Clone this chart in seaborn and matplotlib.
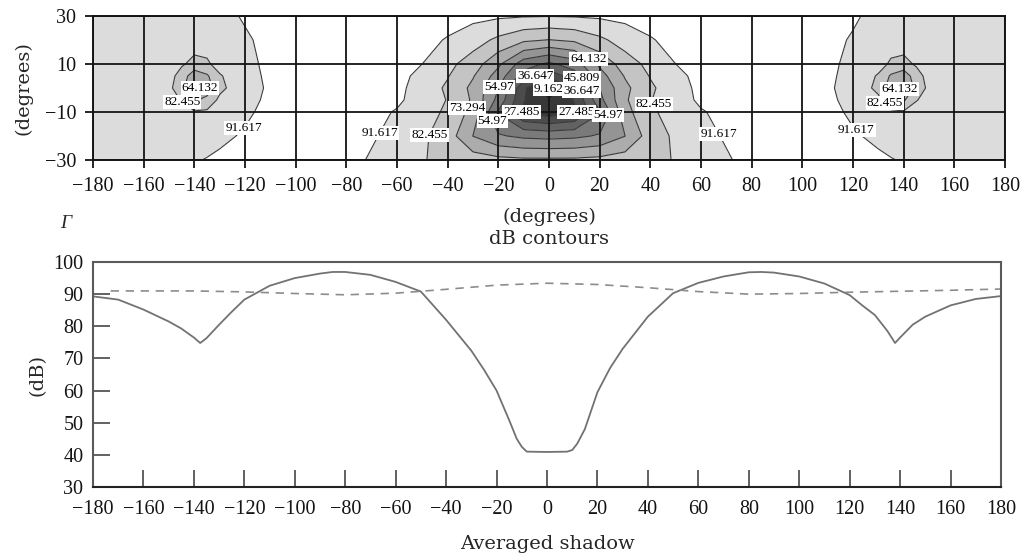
import numpy as np
import seaborn as sns
import matplotlib
matplotlib.use("Agg")
import matplotlib.pyplot as plt

# ---------------- top panel: dB contour field -------------
azimuth = [-180, -160, -150, -145, -140, -135, -130, -120, -110, -100, -80, -60, -50, -40, -30,
           -20, -10, 0, 10, 20, 30, 40, 50, 60, 80, 100, 110, 120, 130, 135, 140, 145, 150, 160, 180]
elevation = [-30, -20, -10, -5, 0, 5, 10, 20, 30]

db_el_m30 = [89, 89, 89, 90, 91, 92, 93, 95, 96, 96.5, 95, 86, 83, 80, 78,
             76, 75, 75, 75, 76, 78, 80, 83, 86, 95, 96.5, 96, 95, 93, 92, 91, 90, 89, 89, 89]
db_el_m20 = [89, 88.5, 88, 87.5, 87, 88.5, 90, 92.5, 95.5, 96.5, 96, 89, 84, 78, 64,
             56, 53, 52, 53, 56, 64, 78, 84, 89, 96, 96.5, 95.5, 92.5, 90, 88.5, 87, 87.5, 88, 88.5, 89]
db_el_m10 = [89, 88.5, 87, 86, 83.5, 84, 86, 90.2, 94, 96, 96.5, 91, 86, 81, 70,
             45, 26, 22, 26, 45, 70, 81, 86, 91, 96.5, 96, 94, 90.2, 86, 84, 83.5, 86, 87, 88.5, 89]
db_el_m5 = [89, 88.5, 85.5, 82, 72, 76, 84.5, 89.5, 93, 96, 97, 93, 88, 82, 72,
            52, 28, 18, 28, 52, 72, 82, 88, 93, 97, 96, 93, 89.5, 84.5, 76, 72, 82, 85.5, 88.5, 89]
db_el_0 = [89, 88.5, 84.5, 77, 61, 68, 80, 89.2, 92.5, 96, 97, 94, 87.5, 81, 71,
           55, 30, 8, 30, 55, 71, 81, 87.5, 94, 97, 96, 92.5, 89.2, 80, 68, 61, 77, 84.5, 88.5, 89]
db_el_p5 = [89, 88.5, 85.5, 79, 67, 72, 81.5, 89.5, 92.8, 96, 97, 94.5, 89, 83, 74,
            60, 42, 30, 42, 60, 74, 83, 89, 94.5, 97, 96, 92.8, 89.5, 81.5, 72, 67, 79, 85.5, 88.5, 89]
db_el_p10 = [89, 88.5, 87, 83.5, 80, 81, 86, 90, 93, 96, 97, 95, 91.6, 85, 78,
             66, 50, 44, 50, 66, 78, 85, 91.6, 95, 97, 96, 93, 90, 86, 81, 80, 83.5, 87, 88.5, 89]
db_el_p20 = [89, 88.5, 88, 87, 86.5, 87, 88, 90.5, 94, 96, 97, 96, 94, 91, 86.5,
             80.5, 75, 73, 75, 80.5, 86.5, 91, 94, 96, 97, 96, 94, 90.8, 88, 87, 86.5, 87, 88, 88.5, 89]
db_el_p30 = [89, 88.5, 88, 88, 87.5, 88, 89, 92.5, 95, 96, 97, 97, 96, 95, 94,
             93, 92.3, 92, 92.3, 93, 94, 95, 96, 97, 97, 96, 95, 92.8, 89, 88, 88, 88, 88, 88.5, 89]

contour_levels = [9.162, 18.324, 27.485, 36.647, 45.809, 54.97, 64.132, 73.294, 82.455, 91.617]

# ---------------- bottom panel: averaged shadow curves ------------------------------
shadow_az = [-180, -170, -160, -150, -145, -140, -137.5, -135, -130, -125, -120, -110, -100,
             -90, -85, -80, -70, -60, -50, -40, -30, -25, -20, -15, -12, -10, -8, 0,
             8, 10, 12, 15, 20, 25, 30, 40, 50, 60, 70, 80, 85, 90, 100, 110, 120,
             125, 130, 135, 138, 140, 145, 150, 160, 170, 180]
shadow_db = [89.3, 88.3, 85.2, 81.5, 79.3, 76.5, 74.8, 76.3, 80.5, 84.5, 88.3, 92.6, 95.0,
             96.4, 96.9, 96.9, 96.0, 93.8, 90.8, 82.0, 72.4, 66.5, 60.0, 50.8, 45.0, 42.5, 41.0, 40.9,
             41.0, 41.5, 43.5, 48.0, 59.5, 67.0, 73.0, 83.0, 90.3, 93.5, 95.5, 96.8, 96.9, 96.7, 95.5, 93.3, 89.7,
             86.5, 83.5, 78.5, 74.8, 76.5, 80.5, 83.0, 86.5, 88.5, 89.4]

dashed_az = [-173, -160, -140, -120, -100, -80, -60, -40, -20, 0,
             20, 40, 60, 80, 100, 120, 140, 160, 180]
dashed_db = [91.0, 91.0, 91.0, 90.7, 90.2, 89.8, 90.3, 91.5, 92.8, 93.4,
             93.0, 92.0, 90.8, 90.0, 90.2, 90.6, 90.9, 91.2, 91.6]


def main():
    sns.set_style("ticks")
    plt.rcParams["font.family"] = ["Liberation Serif", "DejaVu Serif"]
    plt.rcParams["axes.unicode_minus"] = True

    field = np.array([db_el_m30, db_el_m20, db_el_m10, db_el_m5, db_el_0,
                      db_el_p5, db_el_p10, db_el_p20, db_el_p30])

    fig = plt.figure(figsize=(10.21, 5.59), dpi=100)
    ax1 = fig.add_axes([0.0911, 0.7138, 0.8932, 0.2576])
    ax2 = fig.add_axes([0.0911, 0.1288, 0.8893, 0.4025])

    ##### top: filled dB contours ########################################
    fill_colors = ["#161616", "#262626", "#383838", "#4c4c4c", "#626262", "#7a7a7a",
                   "#949494", "#acacac", "#c4c4c4", "#dcdcdc", "#ffffff"]
    ax1.contourf(azimuth, elevation, field, levels=[-5] + contour_levels + [105],
                 colors=fill_colors)

    # roughly where each level is labelled on the original figure
    label_spots = {
        91.617: [(-118, -19.5), (-66, -19), (67, -19), (120, -19)],
        82.455: [(-146, -7.5), (-48, -19), (41.5, -6.5), (131, -8)],
        73.294: [(-31.5, -8.5)],
        64.132: [(-137, -1), (15, 11), (138, -1)],
        54.97: [(-17.7, -1), (-27, -16), (27, -13)],
        45.809: [(13.5, 4.5)],
        36.647: [(-6, 6.4), (12, -1.5)],
        27.485: [(-11, -10), (12.6, -10)],
        9.162: [(-1, -1.5)],
    }
    # one contour set per level so each label lands on its own level
    for lvl in contour_levels:
        cs = ax1.contour(azimuth, elevation, field, levels=[lvl],
                         colors="#3a3a3a", linewidths=0.8)
        if lvl in label_spots:
            cs.clabel(inline=False, fontsize=9.5, colors="black",
                      fmt=lambda v: f"{v:g}", manual=label_spots[lvl])
    for t in ax1.texts:
        t.set_rotation(0)
        t.set_bbox(dict(facecolor="white", edgecolor="none", pad=0.8))

    ax1.set_xlim(-180, 180)
    ax1.set_ylim(-30, 30)
    ax1.set_xticks(range(-180, 181, 20))
    ax1.set_yticks([-30, -10, 10, 30])
    ax1.set_axisbelow(False)
    ax1.grid(True, color="#141414", lw=1.3)
    for s in ax1.spines.values():
        s.set_color("#141414")
        s.set_linewidth(1.4)
    ax1.tick_params(direction="out", length=6, width=1.3, colors="#141414",
                    labelsize=14.5, pad=6)
    ax1.set_ylabel("(degrees)", fontsize=14, family="DejaVu Serif", labelpad=9)
    ax1.set_xlabel("(degrees)\ndB contours", fontsize=14, family="DejaVu Serif",
                   linespacing=1.25, labelpad=9)

    ##### bottom: averaged shadow ########################################
    sns.lineplot(x=shadow_az, y=shadow_db, ax=ax2, color="#727272", lw=1.3)
    sns.lineplot(x=dashed_az, y=dashed_db, ax=ax2, color="#8c8c8c", lw=1.2,
                 linestyle=(0, (5, 4)))
    ax2.set_xlim(-180, 180)
    ax2.set_ylim(30, 100)
    ax2.set_xticks(range(-180, 181, 20))
    ax2.set_yticks(range(30, 101, 10))
    for s in ax2.spines.values():
        s.set_visible(True)
        s.set_color("#5a5a5a")
        s.set_linewidth(1.5)
    ax2.spines["bottom"].set_color("#222222")
    ax2.tick_params(direction="in", length=12, width=1.3, color="#555555",
                    labelcolor="#141414", labelsize=14.5)
    ax2.tick_params(axis="x", pad=9)
    ax2.tick_params(axis="y", pad=7)
    ax2.set_xlabel("Averaged shadow", fontsize=14, family="DejaVu Serif", labelpad=12)
    ax2.set_ylabel("(dB)", fontsize=14, family="DejaVu Serif", labelpad=5)

    fig.text(0.064, 0.6, "Γ", fontsize=14, style="italic", ha="center", va="center")

    fig.savefig("out.png", dpi=100)


if __name__ == '__main__':
    main()
